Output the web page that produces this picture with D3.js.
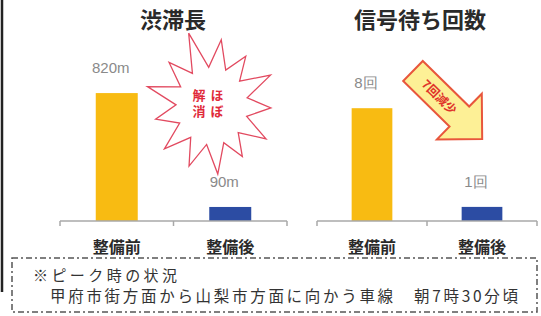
<!DOCTYPE html>
<html>
<head>
<meta charset="utf-8">
<script src="https://cdn.jsdelivr.net/npm/d3@7"></script>
<style>
  body { margin: 0; background: #fff; }
  svg { display: block; font-family: "Noto Sans CJK JP", sans-serif; }
</style>
</head>
<body>
<div id="chart"></div>
<script>
const categories = ["整備前", "整備後"];
const jamLength = [820, 90];          // 渋滞長 (m)
const signalWaits = [8, 1];           // 信号待ち回数 (回)
const jamLabels = ["820m", "90m"];
const waitLabels = ["8回", "1回"];
const titles = ["渋滞長", "信号待ち回数"];
const noteLines = ["※ピーク時の状況", "甲府市街方面から山梨市方面に向かう車線　朝7時30分頃"];

const width = 541, height = 316;
const baseY = 221;
const barColors = ["#f8bb12", "#2c4ca3"];

const svg = d3.select("#chart").append("svg")
    .attr("width", width)
    .attr("height", height);

// left edge line
svg.append("line")
    .attr("x1", 2).attr("x2", 2).attr("y1", 0).attr("y2", 292)
    .attr("stroke", "#222").attr("stroke-width", 2.5);

function drawPanel(opts) {
    const x = d3.scaleBand().domain(categories).range(opts.xRange).padding(0);
    const y = d3.scaleLinear().domain(opts.domain).range([baseY, opts.top]);
    const g = svg.append("g");
    const bw = x.bandwidth() * 0.37;

    g.append("text")
        .attr("x", opts.titleX).attr("y", 28)
        .attr("text-anchor", "middle")
        .attr("font-size", 22).attr("font-weight", 700)
        .attr("fill", "#2a2a2a")
        .text(opts.title);

    g.selectAll("rect.bar").data(opts.values).enter().append("rect")
        .attr("class", "bar")
        .attr("x", (d, i) => x(categories[i]) + x.bandwidth() / 2 - bw / 2)
        .attr("width", bw)
        .attr("y", d => y(d))
        .attr("height", d => baseY - y(d))
        .attr("fill", (d, i) => barColors[i]);

    g.selectAll("text.val").data(opts.values).enter().append("text")
        .attr("class", "val")
        .attr("x", (d, i) => x(categories[i]) + x.bandwidth() / 2 - 6)
        .attr("y", d => y(d) - 20)
        .attr("text-anchor", "middle")
        .attr("font-size", 15)
        .attr("fill", "#8a8a8a")
        .attr("font-family", "Liberation Sans, sans-serif")
        .text((d, i) => opts.labels[i]);

    // axis line with downward ticks at band boundaries
    const r = opts.xRange;
    const ticks = [r[0], x(categories[1]), r[1]];
    g.append("line")
        .attr("x1", r[0]).attr("x2", r[1]).attr("y1", baseY).attr("y2", baseY)
        .attr("stroke", "#a8a8a8").attr("stroke-width", 1.5);
    g.selectAll("line.tick").data(ticks).enter().append("line")
        .attr("class", "tick")
        .attr("x1", d => d).attr("x2", d => d)
        .attr("y1", baseY).attr("y2", baseY + 5)
        .attr("stroke", "#a8a8a8").attr("stroke-width", 1.5);

    g.selectAll("text.cat").data(categories).enter().append("text")
        .attr("class", "cat")
        .attr("x", d => x(d) + x.bandwidth() / 2)
        .attr("y", 253)
        .attr("text-anchor", "middle")
        .attr("font-size", 16).attr("font-weight", 700)
        .attr("fill", "#2a2a2a")
        .text(d => d);
}

drawPanel({ xRange: [60, 287], domain: [0, 1000], top: baseY - 156,
            values: jamLength, labels: jamLabels, title: titles[0], titleX: 173 });
drawPanel({ xRange: [317, 537], domain: [0, 10], top: baseY - 141,
            values: signalWaits, labels: waitLabels, title: titles[1], titleX: 420 });

// starburst "ほぼ解消"
const spikes = [1.0, 0.92, 1.05, 0.95, 1.0, 0.9, 1.02, 0.97, 1.0, 0.93, 1.08, 0.95, 1.15];
const cx = 212, cy = 106, rx = 62, ry = 67;
const starPts = [];
spikes.forEach((s, i) => {
    const a0 = (i / spikes.length) * 2 * Math.PI - Math.PI / 2 + 0.15;
    const a1 = a0 + Math.PI / spikes.length;
    starPts.push([cx + Math.cos(a0) * rx * s, cy + Math.sin(a0) * ry * s]);
    starPts.push([cx + Math.cos(a1) * rx * 0.58, cy + Math.sin(a1) * ry * 0.58]);
});
svg.append("path")
    .attr("d", d3.line()(starPts) + "Z")
    .attr("fill", "#fff")
    .attr("stroke", "#e24a60")
    .attr("stroke-width", 1.3)
    .attr("stroke-linejoin", "miter");

// vertical text, right column first
const starCols = ["ほぼ", "解消"];
starCols.forEach((col, ci) => {
    svg.append("text")
        .attr("x", 217 - ci * 18).attr("y", 105)
        .attr("text-anchor", "middle")
        .style("writing-mode", "vertical-rl")
        .attr("font-size", 13).attr("font-weight", 700)
        .attr("letter-spacing", 3)
        .attr("fill", "#e02a3a")
        .text(col);
});

// arrow "7回減少"
const arrow = svg.append("g").attr("transform", "translate(413,71) rotate(44.5)");
const shaftLen = 65, halfW = 14, headLen = 32, headHalf = 32;
arrow.append("path")
    .attr("d", d3.line()([
        [0, -halfW], [shaftLen, -halfW], [shaftLen, -headHalf], [shaftLen + headLen, 0],
        [shaftLen, headHalf], [shaftLen, halfW], [0, halfW]
    ]) + "Z")
    .attr("fill", "#fdf096")
    .attr("stroke", "#e8563c")
    .attr("stroke-width", 2)
    .attr("stroke-linejoin", "miter");
arrow.append("text")
    .attr("x", 37).attr("y", 4.5)
    .attr("text-anchor", "middle")
    .attr("font-size", 12).attr("font-weight", 700)
    .attr("fill", "#e0342a")
    .text("7回減少");

// dashed note box
svg.append("rect")
    .attr("x", 12).attr("y", 258).attr("width", 525).attr("height", 54)
    .attr("fill", "none")
    .attr("stroke", "#555")
    .attr("stroke-width", 1.5)
    .attr("stroke-dasharray", "6,3,2,3");

svg.append("text")
    .attr("x", 33).attr("y", 281)
    .attr("font-size", 15)
    .attr("fill", "#333")
    .attr("textLength", 144)
    .text(noteLines[0]);
svg.append("text")
    .attr("x", 50).attr("y", 302)
    .attr("font-size", 15.5)
    .attr("fill", "#333")
    .attr("textLength", 468)
    .text(noteLines[1]);
</script>
</body>
</html>
